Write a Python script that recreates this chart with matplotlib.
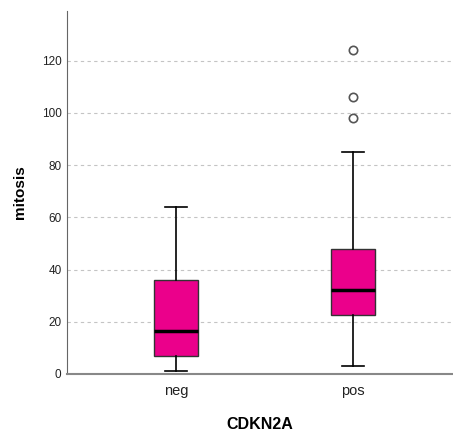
import matplotlib.pyplot as plt

plt.rcParams['font.family'] = ['Liberation Sans', 'DejaVu Sans']

groups = ["neg", "pos"]
# five-number summaries: whislo, q1, med, q3, whishi
whislo = [1, 3]
q1 = [7, 22.5]
med = [16.5, 32]
q3 = [36, 48]
whishi = [64, 85]
fliers = [[], [98, 106, 124]]

stats = []
for i, g in enumerate(groups):
    stats.append({"label": g, "whislo": whislo[i], "q1": q1[i], "med": med[i],
                  "q3": q3[i], "whishi": whishi[i], "fliers": fliers[i]})

fig = plt.figure(figsize=(4.53, 4.33), dpi=100)
ax = fig.add_axes([0.148, 0.1363, 0.852, 0.8383])

ax.bxp(stats, positions=[0, 1], widths=0.25, patch_artist=True,
       boxprops=dict(facecolor="#EB008B", edgecolor="#333333", linewidth=1),
       medianprops=dict(color="black", linewidth=2.5),
       whiskerprops=dict(color="black", linewidth=1.2),
       capprops=dict(color="black", linewidth=1.2),
       capwidths=0.125,
       flierprops=dict(marker="o", markersize=6, markerfacecolor="white",
                       markeredgecolor="#555555", markeredgewidth=1.2))

ax.set_xlim(-0.616, 1.565)
ax.set_ylim(0, 139)
ax.set_yticks([0, 20, 40, 60, 80, 100, 120])
ax.yaxis.grid(True, linestyle=(0, (3, 3)), color="#C4C4C4", linewidth=0.8)
ax.set_axisbelow(True)

for s in ["top", "right"]:
    ax.spines[s].set_visible(False)
ax.spines["left"].set_color("#666666")
ax.spines["bottom"].set_color("#888888")
ax.spines["bottom"].set_linewidth(1.5)

ax.tick_params(axis="both", length=0, colors="#222222")
ax.tick_params(axis="y", labelsize=8.5, pad=4)
ax.tick_params(axis="x", labelsize=10.5, pad=7)

ax.set_xlabel("CDKN2A", fontsize=11.5, fontweight="bold", va="center")
ax.set_ylabel("mitosis", fontsize=11, fontweight="bold", va="center")
ax.xaxis.set_label_coords(0.498, -0.14)
ax.yaxis.set_label_coords(-0.122, 0.5)

fig.savefig("out.png", dpi=100)
